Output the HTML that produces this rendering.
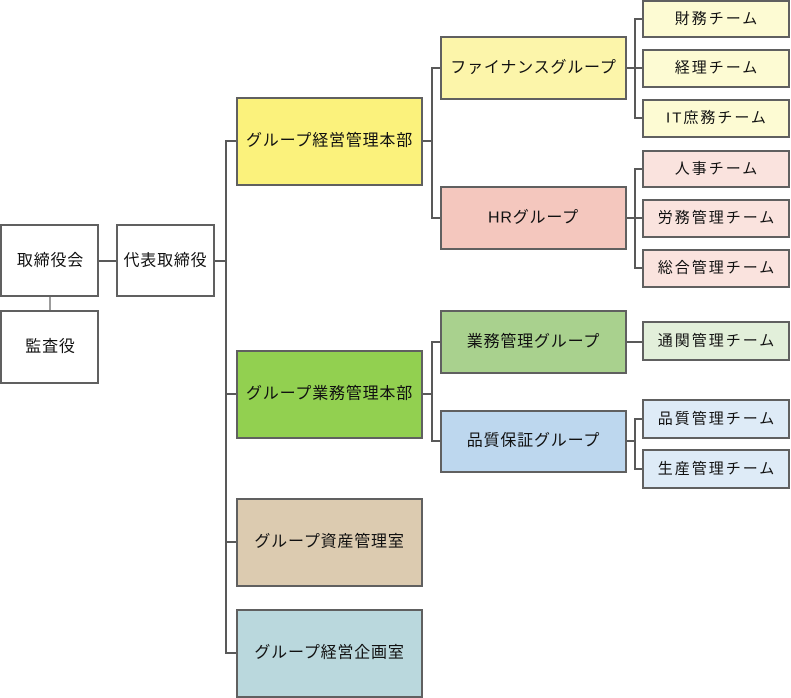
<!DOCTYPE html>
<html><head><meta charset="utf-8"><style>
html,body{margin:0;padding:0;background:#fff;width:791px;height:698px;overflow:hidden}
svg text{font-family:"Liberation Sans","Noto Sans CJK JP",sans-serif;fill:#111;text-anchor:middle;dominant-baseline:central}
</style></head><body>
<svg width="791" height="698" viewBox="0 0 791 698" xmlns="http://www.w3.org/2000/svg">
<g fill="none" stroke="#595959" stroke-width="2">
<line x1="98" y1="261" x2="117" y2="261"/>
<line x1="50" y1="296" x2="50" y2="311" stroke-width="1.2"/>
<line x1="214" y1="261" x2="226" y2="261"/>
<polyline points="237,141 226,141 226,653 237,653"/>
<line x1="226" y1="394" x2="237" y2="394"/>
<line x1="226" y1="542" x2="237" y2="542"/>
<line x1="422" y1="141" x2="432" y2="141"/>
<polyline points="441,68 432,68 432,218 441,218"/>
<line x1="422" y1="394" x2="432" y2="394"/>
<polyline points="441,342 432,342 432,441 441,441"/>
<line x1="626" y1="68" x2="643" y2="68"/>
<polyline points="643,19 635,19 635,118 643,118"/>
<line x1="626" y1="218" x2="643" y2="218"/>
<polyline points="643,169 635,169 635,268 643,268"/>
<line x1="626" y1="342" x2="643" y2="342"/>
<line x1="626" y1="441" x2="635" y2="441"/>
<polyline points="643,419 635,419 635,469 643,469"/>
</g>
<g stroke="#606060" stroke-width="2">
<rect x="1" y="225" width="97" height="71" fill="#fff"/>
<rect x="1" y="311" width="97" height="72" fill="#fff"/>
<rect x="117" y="225" width="97" height="71" fill="#fff"/>
<rect x="237" y="98" width="185" height="87" fill="#fbf27c"/>
<rect x="237" y="351" width="185" height="87" fill="#92d050"/>
<rect x="237" y="499" width="185" height="87" fill="#dccbb0"/>
<rect x="237" y="610" width="185" height="87" fill="#bad8dd"/>
<rect x="441" y="37" width="185" height="62" fill="#fcf5aa"/>
<rect x="441" y="187" width="185" height="62" fill="#f4c7be"/>
<rect x="441" y="311" width="185" height="62" fill="#a9d18e"/>
<rect x="441" y="411" width="185" height="61" fill="#bdd7ee"/>
<rect x="643" y="1" width="146" height="36" fill="#fdfbd3"/>
<rect x="643" y="50" width="146" height="37" fill="#fdfbd3"/>
<rect x="643" y="100" width="146" height="37" fill="#fdfbd3"/>
<rect x="643" y="151" width="146" height="36" fill="#fae3de"/>
<rect x="643" y="200" width="146" height="37" fill="#fae3de"/>
<rect x="643" y="250" width="146" height="37" fill="#fae3de"/>
<rect x="643" y="322" width="146" height="38" fill="#e2efda"/>
<rect x="643" y="400" width="146" height="38" fill="#deebf7"/>
<rect x="643" y="450" width="146" height="38" fill="#deebf7"/>
</g>
<g font-size="16" letter-spacing="0.8">
<text x="50.5" y="261">取締役会</text>
<text x="50.5" y="347">監査役</text>
<text x="165.5" y="261">代表取締役</text>
<text x="329.5" y="141">グループ経営管理本部</text>
<text x="329.5" y="394">グループ業務管理本部</text>
<text x="329.5" y="542">グループ資産管理室</text>
<text x="329.5" y="653">グループ経営企画室</text>
<text x="533.5" y="68">ファイナンスグループ</text>
<text x="533.5" y="218">HRグループ</text>
<text x="533.5" y="342">業務管理グループ</text>
<text x="533.5" y="441">品質保証グループ</text>
</g>
<g font-size="15" letter-spacing="2">
<text x="717" y="19">財務チーム</text>
<text x="717" y="68">経理チーム</text>
<text x="717" y="118">IT庶務チーム</text>
<text x="717" y="169">人事チーム</text>
<text x="717" y="218">労務管理チーム</text>
<text x="717" y="268">総合管理チーム</text>
<text x="717" y="341">通関管理チーム</text>
<text x="717" y="419">品質管理チーム</text>
<text x="717" y="469">生産管理チーム</text>
</g>
</svg>
</body></html>
